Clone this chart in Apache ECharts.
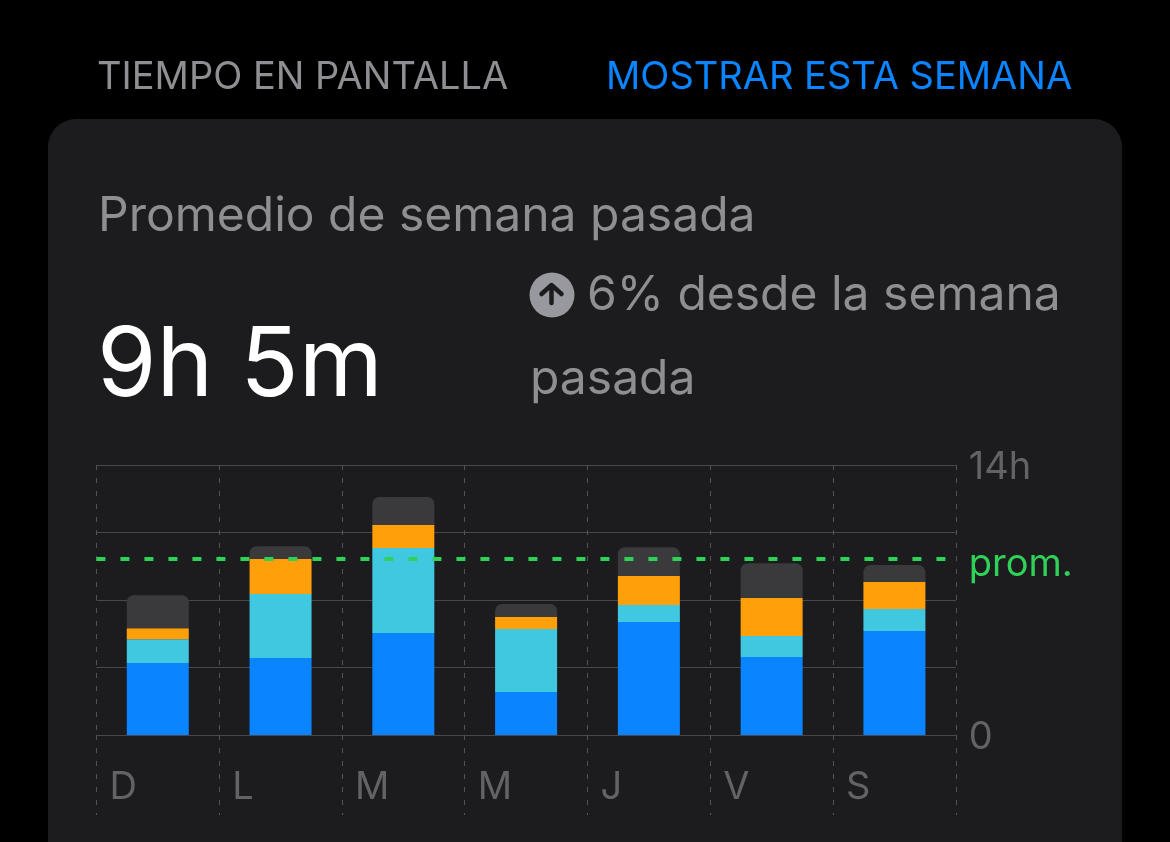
<!DOCTYPE html>
<html><head><meta charset="utf-8">
<style>html,body{margin:0;padding:0;background:#000;overflow:hidden}#c{width:1170px;height:842px}</style>
<script src="https://cdn.jsdelivr.net/npm/echarts@6/dist/echarts.min.js"></script>
</head><body><div id="c"></div>
<script>
const days = ['D','L','M','M','J','V','S'];
const blue = [3.73,3.99,5.29,2.23,5.86,4.04,5.39];
const cyan = [1.24,3.32,4.41,3.27,0.88,1.09,1.14];
const orange = [0.57,1.81,1.19,0.62,1.50,1.97,1.40];
const gray = [1.71,0.67,1.45,0.67,1.50,1.81,0.88];
const average = 9.12;
const yLabels = {0:'0',14:'14h'};

const FONT = 'Inter, "Noto Sans", sans-serif';
const GRID = '#48484a', LABEL = '#636366', MUTED = '#8e8e93';
const vDash = {color:'#545456', type:[5,8], width:1};

function seg(name,data,color,extra){
  return Object.assign({name,type:'bar',stack:'t',data,barWidth:62,itemStyle:{color},silent:true,animation:false},extra||{});
}
function txt(text,x,y,size,fill,weight,extra){
  return {type:'text',x,y,z:5,style:Object.assign({text,fill,font:(weight||400)+' '+size+'px '+FONT,textVerticalAlign:'middle',verticalAlign:'middle'},extra||{})};
}
const chart = echarts.init(document.getElementById('c'),null,{renderer:'canvas',width:1170,height:842});
chart.setOption({
  animation:false,
  backgroundColor:'#000',
  grid:{left:96.4,top:465,width:859.4,height:270,containLabel:false},
  xAxis:[
    {type:'category',data:days,boundaryGap:true,axisLine:{show:false},axisTick:{show:false},axisLabel:{show:false},splitLine:{show:false}},
    {type:'category',data:days.concat(['']),boundaryGap:false,position:'bottom',
     axisLine:{show:true,lineStyle:{color:GRID,width:1}},
     axisTick:{show:true,length:80,alignWithLabel:true,lineStyle:vDash},
     splitLine:{show:true,lineStyle:vDash,interval:0},
     axisLabel:{show:true,interval:0,align:'left',verticalAlign:'middle',margin:53,padding:[0,0,0,13],color:LABEL,fontSize:38,fontFamily:FONT}}
  ],
  yAxis:{type:'value',min:0,max:14,interval:3.5,position:'right',axisLine:{show:false},axisTick:{show:false},
    splitLine:{show:true,lineStyle:{color:GRID,width:1}},
    axisLabel:{show:true,margin:13,color:LABEL,fontSize:38,fontFamily:FONT,verticalAlign:'top',lineHeight:6,
      formatter:v=>yLabels[v]||''}},
  series:[
    seg('a',blue,'#0a84ff'),
    seg('b',cyan,'#40c8e0'),
    seg('c',orange,'#ff9f0a'),
    seg('d',gray,'#3a3a3c',{
      itemStyle:{color:'#3a3a3c',borderRadius:[7,7,0,0]},
      markLine:{silent:true,symbol:'none',animation:false,z:10,
        lineStyle:{color:'#30d158',type:[9,15],width:4,opacity:1},
        label:{show:true,position:'end',formatter:'prom.',color:'#30d158',fontSize:38,fontFamily:FONT,distance:13,verticalAlign:'top',lineHeight:10},
        data:[{yAxis:average}]}
    })
  ],
  graphic:[
    {type:'rect',z:-10,shape:{x:48,y:119,width:1074,height:800,r:28},style:{fill:'#1c1c1e'}},
    txt('TIEMPO EN PANTALLA',97,78,38,MUTED),
    txt('MOSTRAR ESTA SEMANA',606,78,38,'#0a84ff'),
    txt('Promedio de semana pasada',98,217,48,MUTED),
    txt('9h 5m',97,367,96,'#fff'),
    {type:'circle',z:5,shape:{cx:552,cy:295,r:22.5},style:{fill:'#98989f'}},
    {type:'polyline',z:6,shape:{points:[[551.5,303],[551.5,286]]},style:{stroke:'#1c1c1e',lineWidth:4.5,lineCap:'round',fill:null}},
    {type:'polyline',z:6,shape:{points:[[541.5,294],[551.5,285],[561.5,294]]},style:{stroke:'#1c1c1e',lineWidth:4.5,lineCap:'round',lineJoin:'round',fill:null}},
    txt('6% desde la semana',587,296,48,MUTED),
    txt('pasada',530,380,48,MUTED)
  ]
});
</script></body></html>
